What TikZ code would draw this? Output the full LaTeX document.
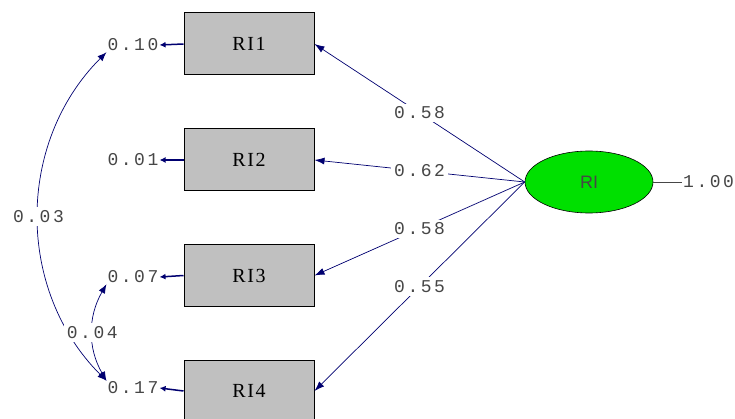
\documentclass[tikz,border=0pt]{standalone}
\usepackage{fontspec}
\setmainfont{Liberation Serif}
\newfontfamily\numfont[LetterSpace=14]{Liberation Mono}
\newfontfamily\boxfont[LetterSpace=8]{Liberation Serif}
\newfontfamily\latfont{Liberation Sans}
\usetikzlibrary{arrows.meta,shapes.geometric}

\definecolor{pathblue}{RGB}{0,0,112}
\definecolor{boxgray}{RGB}{192,192,192}
\definecolor{latgreen}{RGB}{0,224,0}
\definecolor{numgray}{RGB}{70,70,70}

\tikzset{
  manifest/.style={draw=black, line width=1pt, fill=boxgray, minimum width=130pt,
    minimum height=62pt, font=\boxfont\fontsize{20}{20}\selectfont},
  latent/.style={ellipse, draw=black, line width=0.6pt, fill=latgreen, minimum width=128pt,
    minimum height=62pt, text=numgray, font=\latfont\fontsize{18}{18}\selectfont},
  num/.style={inner sep=1pt, text=numgray, font=\numfont\fontsize{18}{18}\selectfont},
  coef/.style={num, fill=white, inner sep=3pt},
  loading/.style={draw=pathblue, line width=0.7pt, -{Latex[length=10pt,width=7pt]}},
  errpath/.style={draw=pathblue, line width=1.5pt, -{Latex[length=6pt,width=6pt]}},
  covpath/.style={draw=pathblue, line width=0.7pt,
    {Latex[length=9pt,width=7pt]}-{Latex[length=9pt,width=7pt]}}
}

\begin{document}
\begin{tikzpicture}[x=1pt,y=-1pt]
  \useasboundingbox (0,0) rectangle (735,419);

  % indicators
  \node[manifest] (ri1) at (249,44) {RI1};
  \node[manifest] (ri2) at (249,160) {RI2};
  \node[manifest] (ri3) at (249,275.5) {RI3};
  \node[manifest] (ri4) at (249,391) {RI4};

  % factor
  \node[latent] (ri) at (589,182) {RI};
  \node[num, anchor=west] (var) at (682,182) {1.00};
  \draw[numgray, line width=0.4pt] (ri.east) -- (var.west);

  % error variances
  \node[num] (e1) at (133,45) {0.10};
  \node[num] (e2) at (133,160) {0.01};
  \node[num] (e3) at (133,277) {0.07};
  \node[num] (e4) at (133,388) {0.17};
  \foreach \i in {1,...,4}
    \draw[errpath] (ri\i.west) -- (e\i.east);

  % loadings
  \draw[loading] (ri.west) -- node[coef] {0.58} (ri1.east);
  \draw[loading] (ri.west) -- node[coef] {0.62} (ri2.east);
  \draw[loading] (ri.west) -- node[coef] {0.58} (ri3.east);
  \draw[loading] (ri.west) -- node[coef] {0.55} (ri4.east);

  % error covariances
  \draw[covpath] (e1.south west) to[bend right=45] node[coef] {0.03} (e4.north west);
  \draw[covpath] (e3.south west) to[bend right=30] node[coef] {0.04} (e4.north west);
\end{tikzpicture}
\end{document}
